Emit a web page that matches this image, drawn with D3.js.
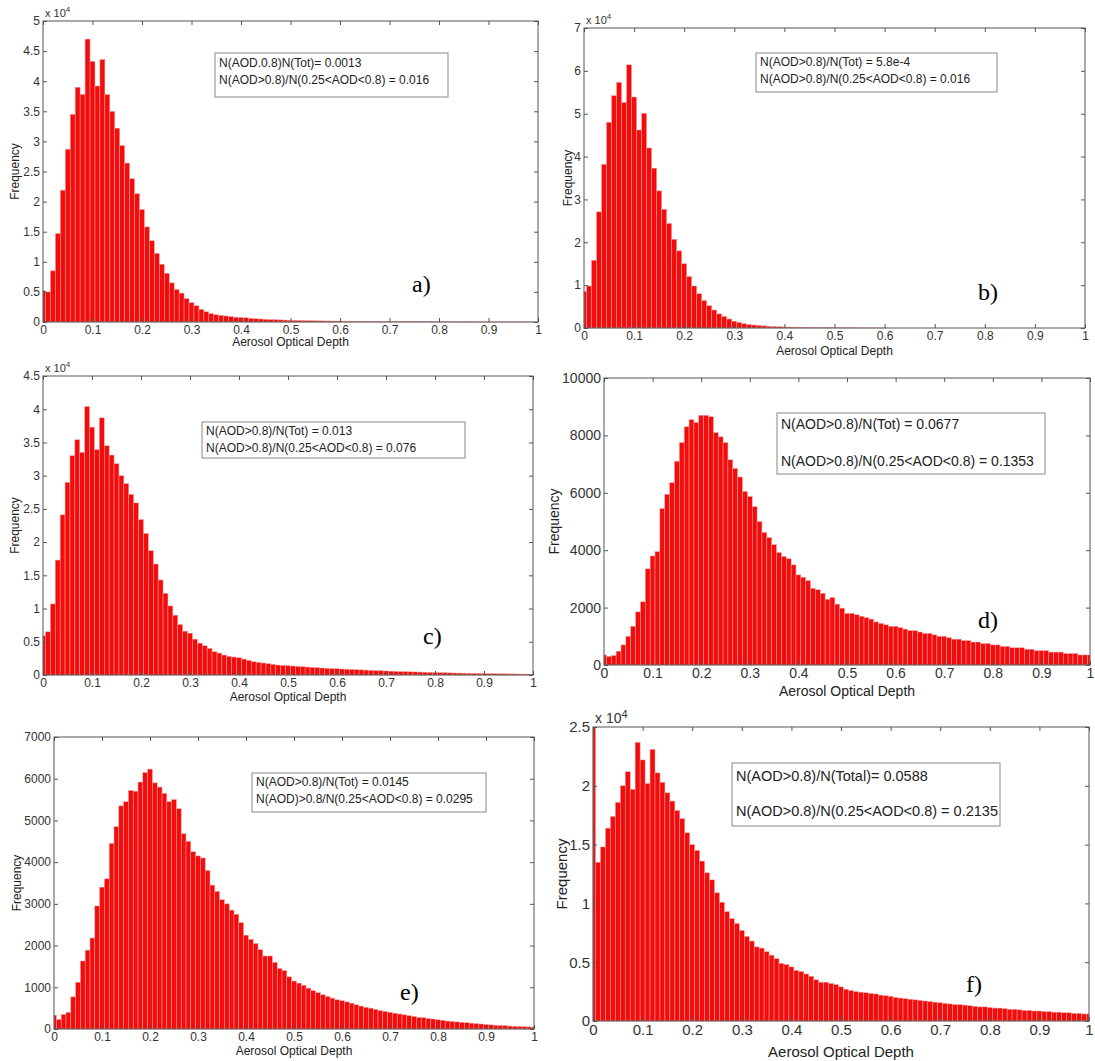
<!DOCTYPE html>
<html>
<head>
<meta charset="utf-8">
<script src="https://cdn.jsdelivr.net/npm/d3@7"></script>
<style>
  body { margin: 0; background: #fff; }
  text { font-family: "Liberation Sans", Arial, sans-serif; fill: #222; }
</style>
</head>
<body>
<script>
// shared x axis: bins of 0.01 AOD, centred on multiples of 0.01
var binWidth = 0.01;
var xTicks = [0, 0.1, 0.2, 0.3, 0.4, 0.5, 0.6, 0.7, 0.8, 0.9, 1];
var xTickLabels = ["0", "0.1", "0.2", "0.3", "0.4", "0.5", "0.6", "0.7", "0.8", "0.9", "1"];

// a) counts in units of 10^4
var freqA = [0.52, 0.50, 0.85, 1.47, 2.19, 2.87, 3.45, 3.90, 3.78, 4.70, 4.33, 3.92, 4.36, 3.78, 3.50, 3.22, 2.93, 2.64, 2.38, 2.13,
  1.87, 1.58, 1.35, 1.14, 0.96, 0.81, 0.65, 0.54, 0.48, 0.39, 0.32, 0.27, 0.21, 0.17, 0.14, 0.12, 0.11, 0.10, 0.09, 0.08,
  0.075, 0.07, 0.06, 0.055, 0.05, 0.045, 0.04, 0.038, 0.035, 0.032, 0.03, 0.028, 0.026, 0.024, 0.022, 0.02, 0.019, 0.018, 0.017, 0.016,
  0.015, 0.014, 0.013, 0.012, 0.011, 0.01, 0.01, 0.009, 0.009, 0.008, 0.008, 0.007, 0.007, 0.006, 0.006, 0.006, 0.005, 0.005, 0.005, 0.004,
  0.004, 0.004, 0.004, 0.003, 0.003, 0.003, 0.003, 0.003, 0.002, 0.002, 0.002, 0.002, 0.002, 0.002, 0.001, 0.001, 0.001, 0.001, 0.001, 0.001];
var yTicksA = [0, 0.5, 1, 1.5, 2, 2.5, 3, 3.5, 4, 4.5, 5];
var yLabelsA = ["0", "0.5", "1", "1.5", "2", "2.5", "3", "3.5", "4", "4.5", "5"];
var noteA = ["N(AOD.0.8)N(Tot)= 0.0013", "N(AOD>0.8)/N(0.25<AOD<0.8) = 0.016"];

// b) counts in units of 10^4
var freqB = [0.85, 0.98, 1.58, 2.71, 3.82, 4.80, 5.42, 5.73, 5.26, 6.14, 5.39, 4.62, 5.01, 4.20, 3.73, 3.20, 2.77, 2.44, 2.07, 1.80,
  1.50, 1.20, 0.98, 0.80, 0.64, 0.52, 0.42, 0.33, 0.27, 0.21, 0.16, 0.13, 0.10, 0.08, 0.07, 0.06, 0.05, 0.04, 0.035, 0.03,
  0.025, 0.022, 0.02, 0.018, 0.015, 0.012, 0.01, 0.009, 0.008, 0.007, 0.006, 0.005, 0.004, 0.004, 0.003, 0.003, 0.002, 0.002, 0.002, 0.001, 0.001];
var yTicksB = [0, 1, 2, 3, 4, 5, 6, 7];
var yLabelsB = ["0", "1", "2", "3", "4", "5", "6", "7"];
var noteB = ["N(AOD>0.8)/N(Tot) = 5.8e-4", "N(AOD>0.8)/N(0.25<AOD<0.8) = 0.016"];

// c) counts in units of 10^4
var freqC = [0.59, 0.65, 1.07, 1.73, 2.41, 2.90, 3.30, 3.54, 3.35, 4.04, 3.73, 3.39, 3.87, 3.45, 3.31, 3.18, 3.00, 2.88, 2.72, 2.59,
  2.34, 2.13, 1.87, 1.67, 1.43, 1.23, 1.04, 0.90, 0.76, 0.66, 0.63, 0.54, 0.48, 0.44, 0.40, 0.35, 0.33, 0.30, 0.28, 0.27,
  0.26, 0.24, 0.22, 0.20, 0.19, 0.18, 0.17, 0.16, 0.15, 0.145, 0.14, 0.135, 0.13, 0.125, 0.12, 0.115, 0.11, 0.105, 0.10, 0.097,
  0.094, 0.09, 0.087, 0.084, 0.08, 0.077, 0.074, 0.07, 0.067, 0.064, 0.06, 0.058, 0.055, 0.052, 0.05, 0.048, 0.046, 0.044, 0.042, 0.04,
  0.038, 0.036, 0.034, 0.032, 0.03, 0.029, 0.028, 0.026, 0.025, 0.024, 0.022, 0.021, 0.02, 0.019, 0.018, 0.017, 0.016, 0.015, 0.014, 0.013, 0.012];
var yTicksC = [0, 0.5, 1, 1.5, 2, 2.5, 3, 3.5, 4, 4.5];
var yLabelsC = ["0", "0.5", "1", "1.5", "2", "2.5", "3", "3.5", "4", "4.5"];
var noteC = ["N(AOD>0.8)/N(Tot) = 0.013", "N(AOD>0.8)/N(0.25<AOD<0.8) = 0.076"];

// d) raw counts
var freqD = [350, 300, 330, 480, 700, 1000, 1350, 1850, 2200, 3350, 3800, 3950, 5450, 5950, 6350, 7100, 7750, 8300, 8550, 8450,
  8700, 8700, 8650, 8100, 7950, 7750, 7150, 6850, 6550, 6050, 5870, 5520, 5000, 4620, 4440, 4190, 3920, 3780, 3700, 3490,
  3140, 3060, 2940, 2670, 2620, 2500, 2290, 2350, 2120, 1980, 1800, 1800, 1750, 1700, 1650, 1600, 1500, 1450, 1400, 1350,
  1350, 1300, 1250, 1200, 1200, 1150, 1100, 1100, 1050, 1000, 1000, 950, 900, 900, 850, 850, 800, 800, 750, 750,
  700, 700, 650, 650, 600, 600, 600, 550, 550, 500, 500, 500, 450, 450, 450, 400, 400, 400, 350, 350, 350];
var yTicksD = [0, 2000, 4000, 6000, 8000, 10000];
var yLabelsD = ["0", "2000", "4000", "6000", "8000", "10000"];
var noteD = ["N(AOD>0.8)/N(Tot) = 0.0677", "N(AOD>0.8)/N(0.25<AOD<0.8) = 0.1353"];

// e) raw counts
var freqE = [330, 230, 350, 400, 770, 1120, 1630, 1890, 2180, 2950, 3400, 3600, 4450, 4850, 5350, 5450, 5720, 5700, 5920, 6150,
  6230, 5900, 5800, 5650, 5450, 5500, 5280, 4680, 4500, 4250, 4150, 4100, 3800, 3450, 3300, 3100, 3000, 2850, 2750, 2550,
  2250, 2150, 2050, 1900, 1750, 1750, 1600, 1450, 1400, 1250, 1150, 1100, 1050, 980, 920, 870, 820, 780, 740, 700,
  680, 650, 620, 580, 550, 520, 500, 470, 440, 420, 400, 380, 360, 340, 320, 300, 280, 270, 250, 240,
  220, 210, 190, 180, 170, 160, 150, 140, 130, 120, 110, 100, 90, 85, 80, 70, 65, 60, 55, 50, 45];
var yTicksE = [0, 1000, 2000, 3000, 4000, 5000, 6000, 7000];
var yLabelsE = ["0", "1000", "2000", "3000", "4000", "5000", "6000", "7000"];
var noteE = ["N(AOD>0.8)/N(Tot) = 0.0145", "N(AOD)>0.8/N(0.25<AOD<0.8) = 0.0295"];

// f) counts in units of 10^4
var freqF = [2.5, 1.35, 1.48, 1.64, 1.74, 1.86, 2.00, 2.12, 1.97, 2.37, 2.22, 2.02, 2.31, 2.11, 2.03, 1.94, 1.87, 1.79, 1.72, 1.60,
  1.50, 1.45, 1.36, 1.26, 1.20, 1.09, 1.01, 0.93, 0.87, 0.83, 0.77, 0.72, 0.68, 0.63, 0.62, 0.59, 0.56, 0.53, 0.49, 0.48,
  0.46, 0.43, 0.42, 0.40, 0.38, 0.35, 0.33, 0.33, 0.32, 0.31, 0.29, 0.27, 0.26, 0.25, 0.245, 0.24, 0.235, 0.23, 0.22, 0.215,
  0.21, 0.20, 0.195, 0.19, 0.185, 0.18, 0.175, 0.17, 0.165, 0.16, 0.155, 0.15, 0.145, 0.14, 0.14, 0.135, 0.13, 0.125, 0.12, 0.12,
  0.115, 0.11, 0.11, 0.105, 0.10, 0.10, 0.095, 0.09, 0.09, 0.085, 0.085, 0.08, 0.08, 0.075, 0.075, 0.07, 0.07, 0.065, 0.065, 0.06, 0.06];
var yTicksF = [0, 0.5, 1, 1.5, 2, 2.5];
var yLabelsF = ["0", "0.5", "1", "1.5", "2", "2.5"];
var noteF = ["N(AOD>0.8)/N(Total)= 0.0588", "N(AOD>0.8)/N(0.25<AOD<0.8) = 0.2135"];

// layout of the six panels
var panels = [
  {values: freqA, yTicks: yTicksA, yLabels: yLabelsA, note: noteA, letter: "a)", exp: true,
   box: [43, 21, 538, 322], fs: 12, note_box: [215, 53, 233, 44], note_y: [67, 84], note_fs: 12,
   letter_xy: [412, 292], ylab_x: 15, xlab_y: 346},
  {values: freqB, yTicks: yTicksB, yLabels: yLabelsB, note: noteB, letter: "b)", exp: true,
   box: [584, 28, 1085, 328], fs: 12, note_box: [756, 53, 241, 39], note_y: [66, 83], note_fs: 12,
   letter_xy: [978, 300], ylab_x: 568, xlab_y: 355},
  {values: freqC, yTicks: yTicksC, yLabels: yLabelsC, note: noteC, letter: "c)", exp: true,
   box: [43, 376, 533, 675], fs: 12, note_box: [202, 422, 263, 36], note_y: [435, 452], note_fs: 12,
   letter_xy: [423, 644], ylab_x: 15, xlab_y: 701},
  {values: freqD, yTicks: yTicksD, yLabels: yLabelsD, note: noteD, letter: "d)", exp: false,
   box: [604, 378, 1090, 665], fs: 14, note_box: [777, 413, 268, 61], note_y: [429, 466], note_fs: 14,
   letter_xy: [978, 628], ylab_x: 554, xlab_y: 696},
  {values: freqE, yTicks: yTicksE, yLabels: yLabelsE, note: noteE, letter: "e)", exp: false,
   box: [54, 737, 534, 1029], fs: 12, note_box: [252, 773, 234, 39], note_y: [786, 803], note_fs: 12,
   letter_xy: [400, 1000], ylab_x: 17, xlab_y: 1055},
  {values: freqF, yTicks: yTicksF, yLabels: yLabelsF, note: noteF, letter: "f)", exp: true,
   box: [593, 727, 1089, 1021], fs: 15, note_box: [732, 763, 268, 63], note_y: [781, 816], note_fs: 14.5,
   letter_xy: [966, 992], ylab_x: 562, xlab_y: 1057}
];

var svg = d3.select("body").append("svg")
  .attr("width", 1095)
  .attr("height", 1061);

panels.forEach(function(p) {
  var l = p.box[0], t = p.box[1], r = p.box[2], b = p.box[3];
  var yMax = p.yTicks[p.yTicks.length - 1];

  var x = d3.scaleLinear().domain([0, 1]).range([l, r]);
  var y = d3.scaleLinear().domain([0, yMax]).range([b, t]);

  var g = svg.append("g");

  var bins = p.values.map(function(v, i) {
    var c = i * binWidth;
    return {x0: Math.max(0, c - binWidth / 2), x1: Math.min(1, c + binWidth / 2), v: Math.min(v, yMax)};
  });

  g.selectAll(".bar")
    .data(bins)
    .enter().append("rect")
    .attr("x", function(d) { return x(d.x0); })
    .attr("width", function(d) { return x(d.x1) - x(d.x0); })
    .attr("y", function(d) { return y(d.v); })
    .attr("height", function(d) { return y(0) - y(d.v); })
    .style("fill", "#f20c0c")
    .style("stroke", "#f7a3a3")
    .style("stroke-width", 0.5);

  // matlab style box with ticks pointing in on every side
  var fmtX = function(d, i) { return xTickLabels[i]; };
  var fmtY = function(d, i) { return p.yLabels[i]; };

  var axes = [
    g.append("g").attr("transform", "translate(0," + b + ")")
      .call(d3.axisBottom(x).tickValues(xTicks).tickFormat(fmtX).tickSizeInner(-4).tickSizeOuter(0).tickPadding(3)),
    g.append("g").attr("transform", "translate(0," + t + ")")
      .call(d3.axisTop(x).tickValues(xTicks).tickFormat("").tickSizeInner(-4).tickSizeOuter(0)),
    g.append("g").attr("transform", "translate(" + l + ",0)")
      .call(d3.axisLeft(y).tickValues(p.yTicks).tickFormat(fmtY).tickSizeInner(-4).tickSizeOuter(0).tickPadding(3)),
    g.append("g").attr("transform", "translate(" + r + ",0)")
      .call(d3.axisRight(y).tickValues(p.yTicks).tickFormat("").tickSizeInner(-4).tickSizeOuter(0))
  ];
  axes.forEach(function(a) {
    a.select(".domain").remove();
    a.selectAll("line").attr("stroke", "#555");
    a.selectAll("text").style("font-size", p.fs + "px").style("fill", "#333")
      .style("font-family", "'Liberation Sans', Arial, sans-serif");
  });

  g.append("rect")
    .attr("x", l).attr("y", t)
    .attr("width", r - l).attr("height", b - t)
    .style("fill", "none").style("stroke", "#555").style("stroke-width", 1);

  if (p.exp) {
    var ex = g.append("text")
      .attr("x", l + 2).attr("y", t - 4)
      .style("font-size", (p.fs - 1) + "px").style("fill", "#333");
    ex.append("tspan").text("x 10");
    ex.append("tspan").attr("dy", -5).style("font-size", (p.fs - 4) + "px").text("4");
  }

  g.append("text")
    .attr("transform", "translate(" + p.ylab_x + "," + ((t + b) / 2) + ") rotate(-90)")
    .attr("text-anchor", "middle")
    .attr("dy", "0.35em")
    .style("font-size", p.fs + "px")
    .text("Frequency");

  g.append("text")
    .attr("x", (l + r) / 2).attr("y", p.xlab_y)
    .attr("text-anchor", "middle")
    .style("font-size", p.fs + "px")
    .text("Aerosol Optical Depth");

  // ratio note
  g.append("rect")
    .attr("x", p.note_box[0]).attr("y", p.note_box[1])
    .attr("width", p.note_box[2]).attr("height", p.note_box[3])
    .style("fill", "#fff").style("stroke", "#888").style("stroke-width", 1);

  p.note.forEach(function(s, i) {
    g.append("text")
      .attr("x", p.note_box[0] + 4).attr("y", p.note_y[i])
      .style("font-size", p.note_fs + "px")
      .text(s);
  });

  g.append("text")
    .attr("x", p.letter_xy[0]).attr("y", p.letter_xy[1])
    .style("font-family", "'Liberation Serif', 'Times New Roman', serif")
    .style("font-size", "24px")
    .style("fill", "#000")
    .text(p.letter);
});
</script>
</body>
</html>
